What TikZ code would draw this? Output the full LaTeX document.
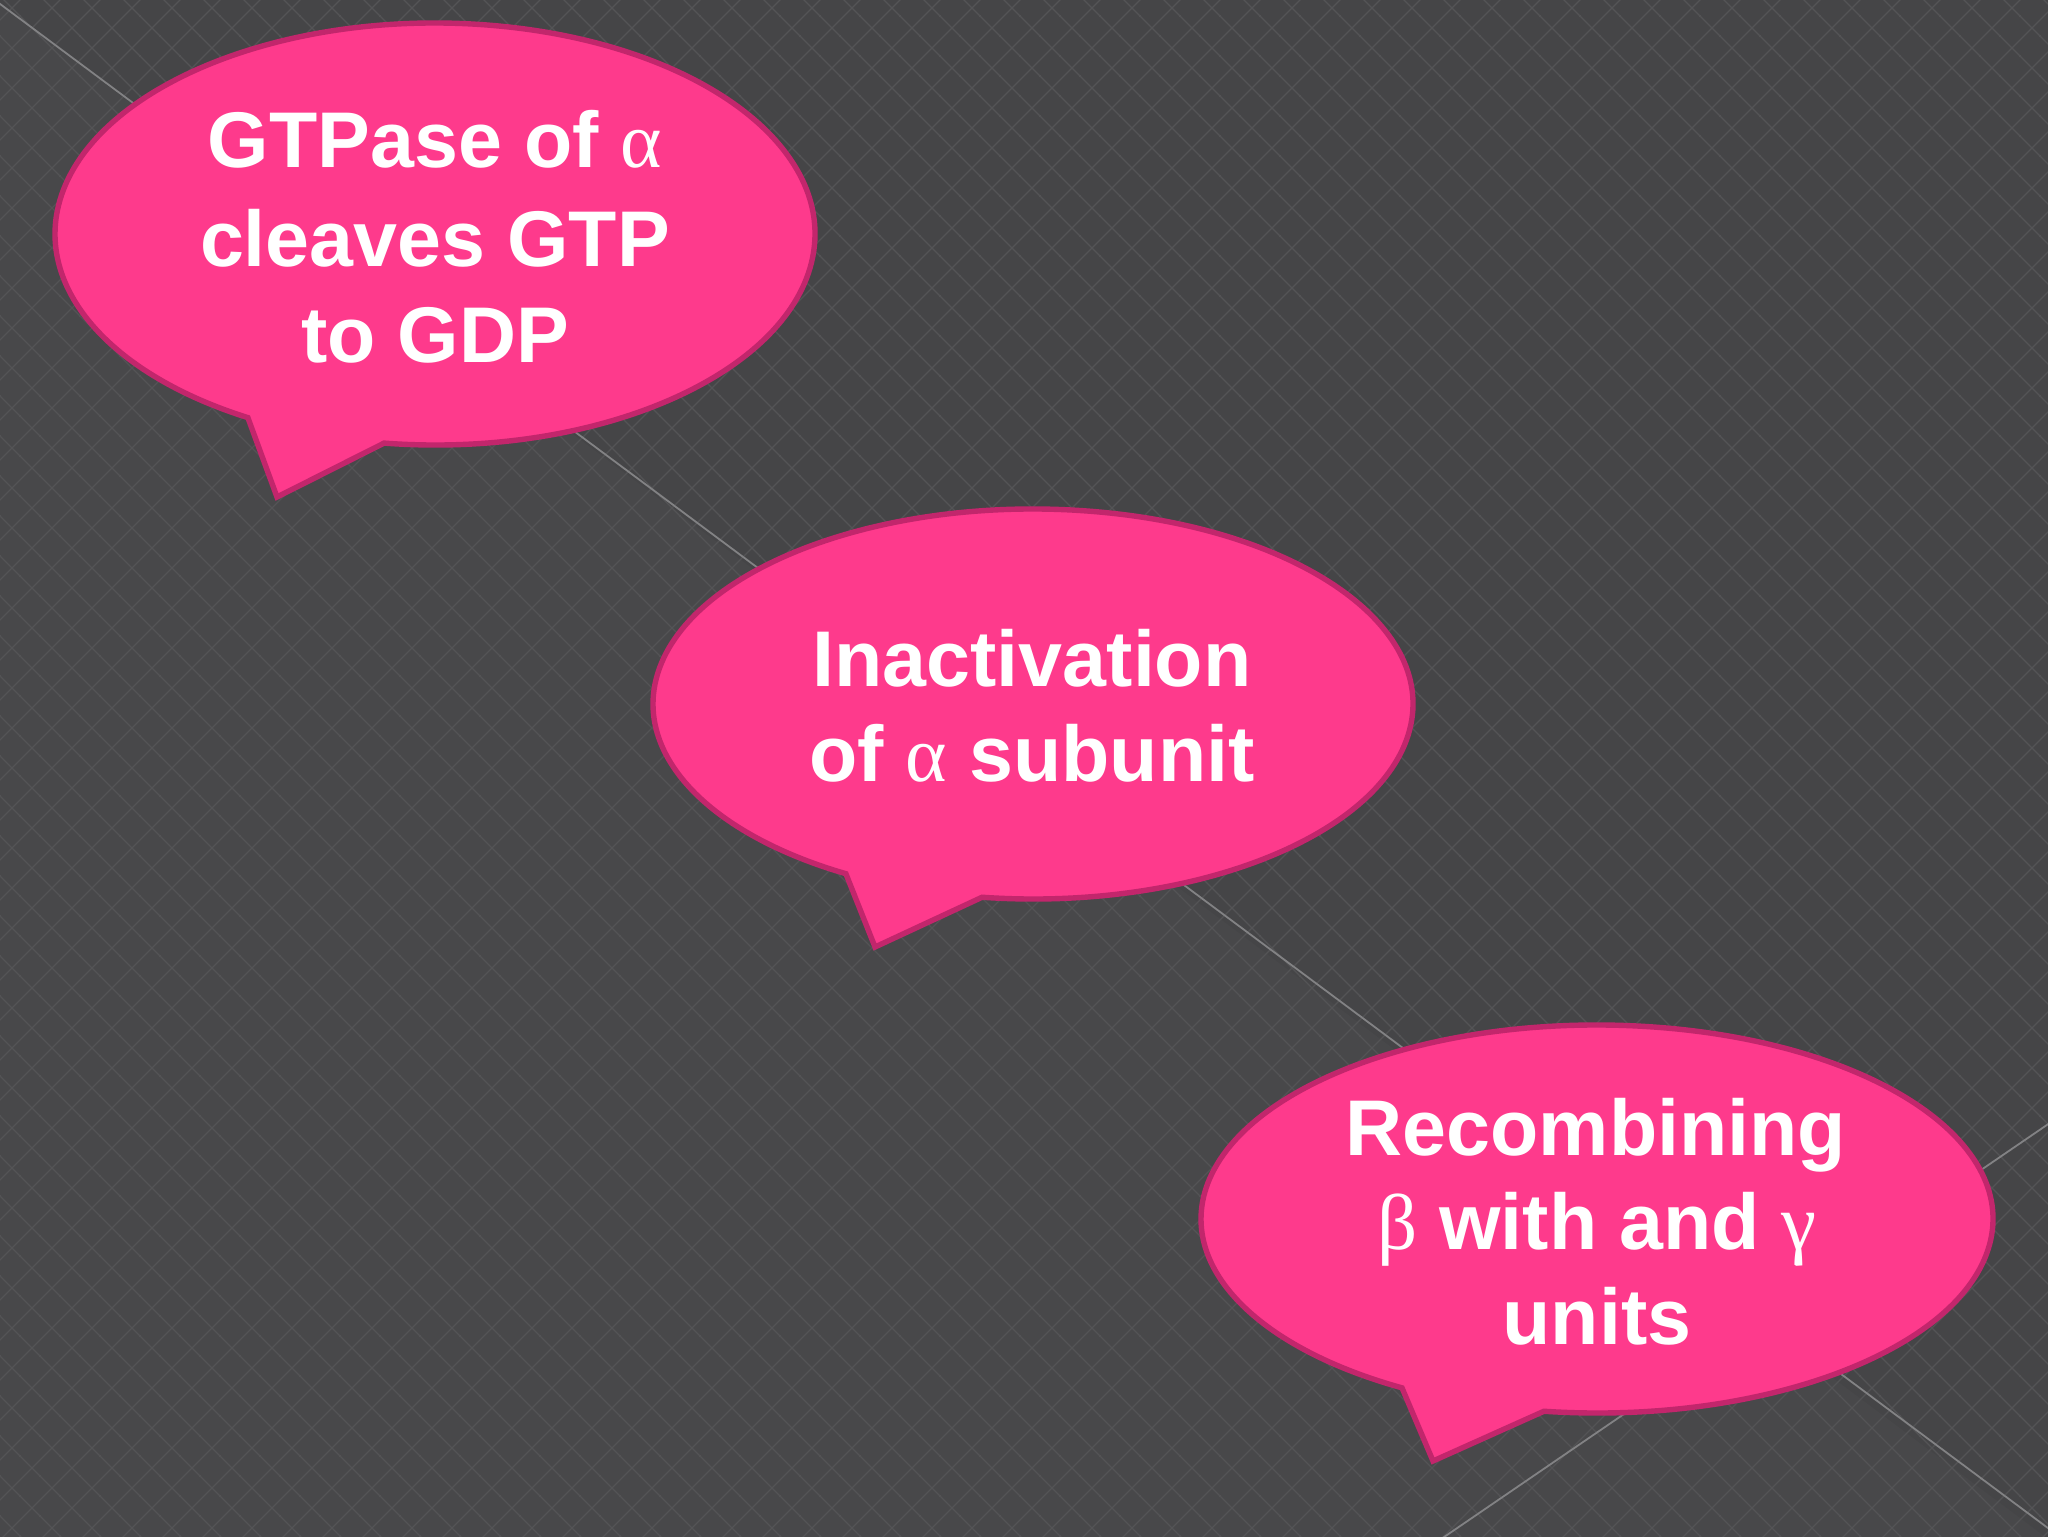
\documentclass[tikz,border=0pt]{standalone}
\usepackage{fontspec}
\setmainfont{Liberation Sans}
\newfontfamily\grk{Liberation Serif}
\definecolor{bg}{HTML}{454547}
\definecolor{bglow}{HTML}{48484A}
\definecolor{patline}{HTML}{545456}
\definecolor{patdot}{HTML}{535355}
\definecolor{diagline}{HTML}{828284}
\definecolor{pinkfill}{HTML}{FE3A8C}
\definecolor{pinkedge}{HTML}{C2266C}
\begin{document}
\begin{tikzpicture}[x=0.25pt,y=0.25pt,
  bubble/.style={fill=pinkfill, draw=pinkedge, line width=1.35pt},
  txt/.style={text=white, font=\fontsize{19.75}{24}\selectfont\bfseries, anchor=base, inner sep=0pt},
  patl/.style={draw=patline, line width=0.3pt},
  patd/.style={draw=patdot, line width=0.55pt, dash pattern=on 0.55pt off 9.45pt},
  diag/.style={draw=diagline, line width=0.45pt}]
\useasboundingbox (0,0) rectangle (2048,1536);
\begin{scope}
  \clip (-12,-12) rectangle (2060,1548);
  \fill[bg] (-12,-12) rectangle (2060,1548);
  \fill[bglow] (-12,-12) -- (-12,1540) -- (2060,-12) -- cycle;
  \foreach \c in {-1536,-1496,...,2048} \draw[patl] (\c,-20) -- ++(1576,1576);
  \foreach \c in {0,40,...,3624} \draw[patl] (\c,-20) -- ++(-1576,1576);
  \foreach \j in {0,40,...,1560} \draw[patd] (-21.1,\j) -- (2100,\j);
  \foreach \j in {20,60,...,1540} \draw[patd] (-1.1,\j) -- (2100,\j);
  \coordinate (a1) at (-12,1541);
  \coordinate (a2) at (2060,-1);
  \coordinate (b1) at (2060,420);
  \coordinate (b2) at (1428,-12);
  \draw[diag] (a1) -- (a2);
  \draw[diag] (b1) -- (b2);
\end{scope}
% bubble 1
\coordinate (c1) at (435,1302);
\coordinate (tip1) at (277,1039);
\draw[bubble] (c1) ++(262.3:95pt and 52.75pt) arc[start angle=262.3,end angle=600.5,x radius=95pt,y radius=52.75pt] -- (tip1) -- cycle;
% bubble 2
\coordinate (c2) at (1033,832);
\coordinate (tip2) at (875,589);
\draw[bubble] (c2) ++(262.3:95pt and 48.75pt) arc[start angle=262.3,end angle=600.5,x radius=95pt,y radius=48.75pt] -- (tip2) -- cycle;
% bubble 3
\coordinate (c3) at (1597,317);
\coordinate (tip3) at (1433,75);
\draw[bubble] (c3) ++(262.3:99pt and 48.5pt) arc[start angle=262.3,end angle=600.5,x radius=99pt,y radius=48.5pt] -- (tip3) -- cycle;
% texts
\node[txt] (t1a) at (435,1368) {GTPase of {\grk\mdseries α}};
\node[txt] (t1b) at (435,1270) {cleaves GTP};
\node[txt] (t1c) at (435,1174) {to GDP};
\node[txt] (t2a) at (1032,850) {Inactivation};
\node[txt] (t2b) at (1032,755) {of {\grk\mdseries α} subunit};
\node[txt] (t3a) at (1596,381) {Recombining};
\node[txt] (t3b) at (1597,287) {{\grk\mdseries β} with and {\grk\mdseries γ}};
\node[txt] (t3c) at (1597,192) {units};
\end{tikzpicture}
\end{document}
